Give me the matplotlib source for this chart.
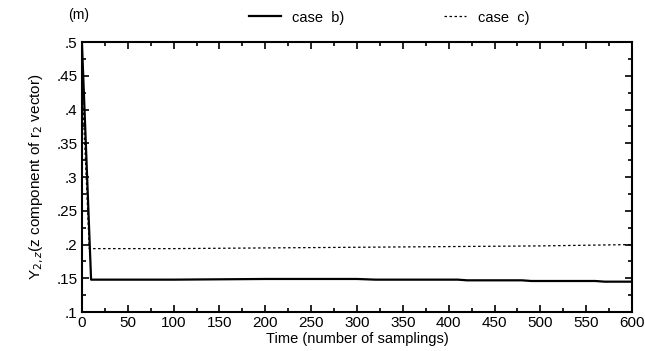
import matplotlib
matplotlib.use('Agg')
import matplotlib.pyplot as plt
from matplotlib.ticker import MultipleLocator, FuncFormatter

plt.rcParams['font.family'] = ['Liberation Sans', 'DejaVu Sans']

# case b) solid
t_b = [0, 10, 100, 200, 300, 320, 410, 420, 480, 490, 560, 570, 600]
y_b = [0.5, 0.148, 0.148, 0.149, 0.149, 0.148, 0.148, 0.147, 0.147, 0.146, 0.146, 0.145, 0.145]
# case c) dotted
t_c = [0, 2, 5, 8, 100, 300, 500, 600]
y_c = [0.44, 0.38, 0.29, 0.194, 0.194, 0.196, 0.198, 0.2]

x_ticks = list(range(0, 601, 50))
y_ticks = [0.1, 0.15, 0.2, 0.25, 0.3, 0.35, 0.4, 0.45, 0.5]

fig = plt.figure(figsize=(6.45, 3.51), dpi=100)
ax = fig.add_axes([0.127, 0.111, 0.853, 0.769])

ax.plot(t_b, y_b, color='black', lw=1.6)
ax.plot(t_c, y_c, color='black', lw=0.9, linestyle=(0, (2, 2)))

ax.set_xlim(0, 600)
ax.set_ylim(0.1, 0.5)
ax.set_xticks(x_ticks)
ax.set_yticks(y_ticks)
ax.xaxis.set_minor_locator(MultipleLocator(25))
ax.yaxis.set_minor_locator(MultipleLocator(0.025))
ax.yaxis.set_major_formatter(FuncFormatter(lambda v, p: ('%g' % v).lstrip('0')))
ax.tick_params(which='both', direction='in', top=True, right=True, labelsize=11, width=1.2)
ax.tick_params(which='major', length=5, pad=3)
ax.tick_params(which='minor', length=3)
for s in ax.spines.values():
    s.set_linewidth(1.5)

ax.set_xlabel('Time (number of samplings)', fontsize=10.5, labelpad=1)
ax.set_ylabel(r'Y$_{2,z}$(z component of r$_{2}$ vector)', fontsize=11, labelpad=8)

fig.text(0.105, 0.945, '(m)', fontsize=10)
fig.legend([ax.lines[0]], ['case  b)'], loc='center', bbox_to_anchor=(0.46, 0.95),
           frameon=False, fontsize=10.5, handlelength=2.2)
fig.legend([ax.lines[1]], ['case  c)'], loc='center', bbox_to_anchor=(0.755, 0.95),
           frameon=False, fontsize=10.5, handlelength=1.5)

plt.savefig('out.png', dpi=100)
